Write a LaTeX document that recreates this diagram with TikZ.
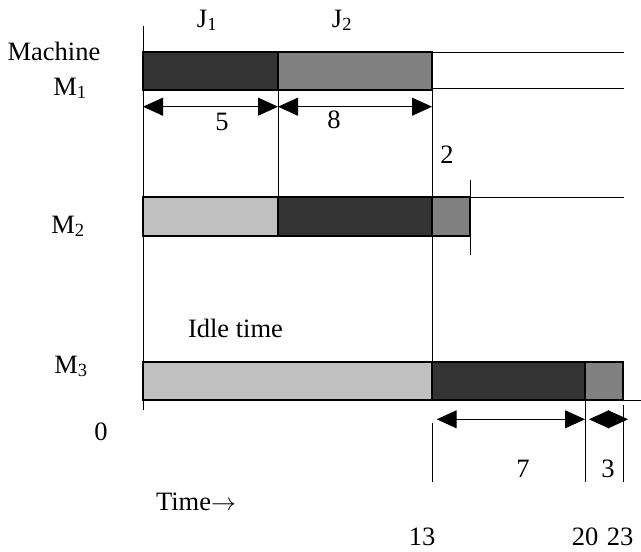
\documentclass[tikz,border=0pt]{standalone}
\usepackage{fontspec}
\setmainfont{Liberation Serif}
\usetikzlibrary{arrows.meta}
\definecolor{jdark}{HTML}{333333}
\definecolor{jmid}{HTML}{808080}
\definecolor{jlight}{HTML}{C0C0C0}
\begin{document}
\begin{tikzpicture}[x=1pt,y=-1pt,
  lbl/.style={inner sep=0pt, anchor=base, font=\fontsize{26.5}{30}\selectfont},
  bar/.style={draw=black, line width=1.3pt},
  thinline/.style={line width=1pt},
  dimarrow/.style={line width=1pt, {Triangle[length=20pt,width=18pt]}-{Triangle[length=20pt,width=18pt]}},
]
\useasboundingbox (0,0) rectangle (641,552);
% vertical lines
\draw[thinline] (143,25.7) -- (143,410);
\draw[thinline] (278,52) -- (278,197);
\draw[thinline] (432,52) -- (432,362);
\draw[thinline] (470,180) -- (470,255);
\draw[thinline] (432,423) -- (432,482);
\draw[thinline] (585,400) -- (585,482);
\draw[thinline] (623,405) -- (623,482);
% horizontal lines
\draw[thinline] (432,52) -- (624,52);
\draw[thinline] (432,88.5) -- (624,88.5);
\draw[thinline] (470,197) -- (624,197);
\draw[thinline] (623,400) -- (641,400);
% M1 bars
\draw[bar, fill=jdark] (143,52) rectangle (278,90);
\draw[bar, fill=jmid] (278,52) rectangle (432,90);
% M2 bars
\draw[bar, fill=jlight] (143,197) rectangle (278,236);
\draw[bar, fill=jdark] (278,197) rectangle (432,236);
\draw[bar, fill=jmid] (432,197) rectangle (470,236);
% M3 bars
\draw[bar, fill=jlight] (143,362) rectangle (432,400);
\draw[bar, fill=jdark] (432,362) rectangle (585,400);
\draw[bar, fill=jmid] (585,362) rectangle (623,400);
% dimension arrows
\coordinate (a1) at (143,106.7);
\coordinate (a2) at (278,106.7);
\coordinate (a3) at (432,106.7);
\coordinate (b1) at (436.7,419.3);
\coordinate (b2) at (585,419.3);
\coordinate (b3) at (589,419.3);
\coordinate (b4) at (628,419.3);
\draw[dimarrow] (a1) -- (a2);
\draw[dimarrow] (a2) -- (a3);
\draw[dimarrow] (b1) -- (b2);
\draw[dimarrow] (b3) -- (b4);
% labels
\node[lbl] (j1) at (207,27) {J\textsubscript{1}};
\node[lbl] (j2) at (342,27) {J\textsubscript{2}};
\node[lbl] (mach) at (54,60) {Machine};
\node[lbl] (m1) at (70,95) {M\textsubscript{1}};
\node[lbl] (five) at (222,130) {5};
\node[lbl] (eight) at (334,128) {8};
\node[lbl] (two) at (447,163) {2};
\node[lbl] (m2) at (68,233) {M\textsubscript{2}};
\node[lbl] (idle) at (235.5,337) {Idle time};
\node[lbl] (m3) at (71,373) {M\textsubscript{3}};
\node[lbl] (zero) at (101,440) {0};
\node[lbl] (time) at (196,510) {Time$\rightarrow$};
\node[lbl] (seven) at (523,477) {7};
\node[lbl] (three) at (608,477) {3};
\node[lbl] (t13) at (422,545) {13};
\node[lbl] (t20) at (585,545) {20};
\node[lbl] (t23) at (620,545) {23};
\end{tikzpicture}
\end{document}
